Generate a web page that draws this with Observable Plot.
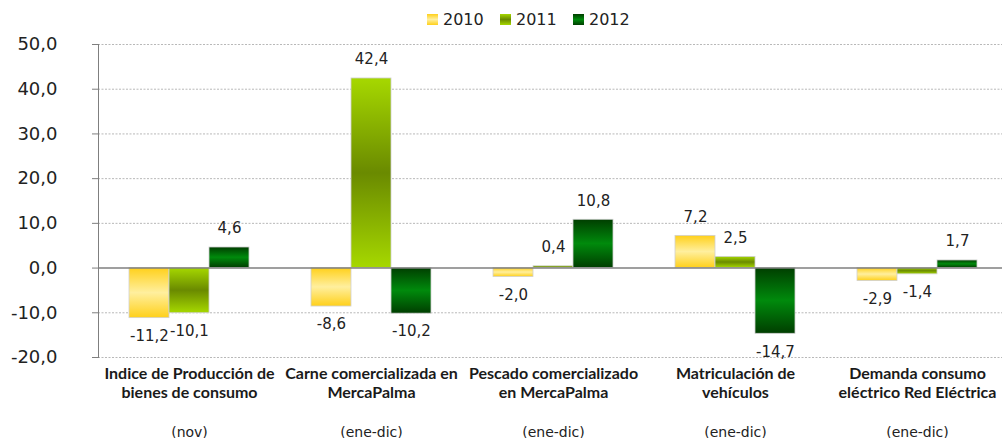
<!DOCTYPE html>
<html>
<head>
<meta charset="utf-8">
<script src="https://cdn.jsdelivr.net/npm/d3@7"></script>
<script src="https://cdn.jsdelivr.net/npm/@observablehq/plot@0.6"></script>
<style>
  html, body { margin: 0; padding: 0; background: #fff; overflow: hidden; width: 1002px; height: 438px; }
  #legend { position: relative; height: 30px; font-family: "DejaVu Sans", sans-serif; font-size: 16px; color: #222; }
  #legend .item { position: absolute; top: 9px; display: flex; align-items: center; height: 20px; }
  #legend svg { margin-right: 5px; }
  #chart { width: 1010px; height: 408px; }
  #chart svg { display: block; max-width: none !important; }
</style>
</head>
<body>
<svg width="0" height="0" style="position:absolute">
  <defs>
    <linearGradient id="g2010" x1="0" y1="0" x2="0" y2="1">
      <stop offset="0" stop-color="#FFD01A"/>
      <stop offset="0.5" stop-color="#FFEF9E"/>
      <stop offset="1" stop-color="#FFD01A"/>
    </linearGradient>
    <linearGradient id="g2011" x1="0" y1="0" x2="0" y2="1">
      <stop offset="0" stop-color="#A6D800"/>
      <stop offset="0.5" stop-color="#6A8A00"/>
      <stop offset="1" stop-color="#A6D800"/>
    </linearGradient>
    <linearGradient id="g2012" x1="0" y1="0" x2="0" y2="1">
      <stop offset="0" stop-color="#003E00"/>
      <stop offset="0.5" stop-color="#008A0C"/>
      <stop offset="1" stop-color="#003E00"/>
    </linearGradient>
  </defs>
</svg>
<div id="legend"></div>
<div id="chart"></div>
<script>
const categories = [
  "Indice de Producción de\nbienes de consumo",
  "Carne comercializada en\nMercaPalma",
  "Pescado comercializado\nen MercaPalma",
  "Matriculación de\nvehículos",
  "Demanda consumo\neléctrico Red Eléctrica"
];
const periods = ["(nov)", "(ene-dic)", "(ene-dic)", "(ene-dic)", "(ene-dic)"];
const years = ["2010", "2011", "2012"];
const v2010 = [-11.2, -8.6, -2.0, 7.2, -2.9];
const v2011 = [-10.1, 42.4, 0.4, 2.5, -1.4];
const v2012 = [4.6, -10.2, 10.8, -14.7, 1.7];
const yTicks = [-20, -10, 0, 10, 20, 30, 40, 50];
const fills = ["url(#g2010)", "url(#g2011)", "url(#g2012)"];

const series = [v2010, v2011, v2012];
const data = [];
categories.forEach((c, i) => years.forEach((y, j) => data.push({cat: c, year: y, value: series[j][i]})));
const catTable = categories.map((c, i) => ({cat: c, period: periods[i]}));
const fmt = v => v.toFixed(1).replace(".", ",");

// legend
const legend = document.getElementById("legend");
const legendLeft = [427, 500, 573];
years.forEach((y, j) => {
  const item = document.createElement("div");
  item.className = "item";
  item.style.left = legendLeft[j] + "px";
  item.innerHTML = `<svg width="11" height="11"><rect x="0" y="0" width="11" height="11" fill="${fills[j]}"/></svg><span>${y}</span>`;
  legend.appendChild(item);
});

const chart = Plot.plot({
  width: 1010,
  height: 408,
  marginTop: 14,
  marginBottom: 81,
  marginLeft: 96,
  marginRight: 0,
  style: {fontFamily: "DejaVu Sans, sans-serif", color: "#222", overflow: "visible", background: "transparent", maxWidth: "none"},
  fx: {domain: categories, paddingInner: 0, paddingOuter: 0, axis: null, label: null},
  x: {domain: years, paddingInner: 0, paddingOuter: 0.72, axis: null, label: null},
  y: {domain: [-20, 50], axis: null, label: null},
  color: {type: "ordinal", domain: years, range: fills},
  marks: [
    Plot.gridY(yTicks.filter(t => t !== 0), {stroke: "#b8b8b8", strokeOpacity: 1, strokeDasharray: "2,1.5"}),
    Plot.barY(data, {fx: "cat", x: "year", y: "value", fill: "year", stroke: "#d0d0d0", strokeWidth: 0.8}),
    Plot.ruleY([0], {stroke: "#7f7f7f", strokeWidth: 1.5}),
    Plot.frame({anchor: "left", facetAnchor: "left", stroke: "#7f7f7f"}),
    Plot.axisY({ticks: yTicks, tickFormat: fmt, tickSize: 6, tickPadding: 35, fontSize: 18, stroke: "#7f7f7f", label: null}),
    Plot.text(data, {filter: d => d.value >= 0, fx: "cat", x: "year", y: "value", text: d => fmt(d.value), dy: -19, fontSize: 15, fill: "#222", lineAnchor: "middle"}),
    Plot.text(data, {filter: d => d.value < 0, fx: "cat", x: "year", y: "value", text: d => fmt(d.value), dy: 18, fontSize: 15, fill: "#222", lineAnchor: "middle"}),
    Plot.text(catTable, {fx: "cat", text: "cat", frameAnchor: "bottom", lineAnchor: "top", dy: 8, fontFamily: "Lato, sans-serif", fontWeight: "bold", fontSize: 16, lineHeight: 1.2, fill: "#1a1a1a"}),
    Plot.text(catTable, {fx: "cat", text: "period", frameAnchor: "bottom", lineAnchor: "middle", dy: 75, fontSize: 14, fill: "#222"})
  ]
});
document.getElementById("chart").appendChild(chart);
</script>
</body>
</html>
